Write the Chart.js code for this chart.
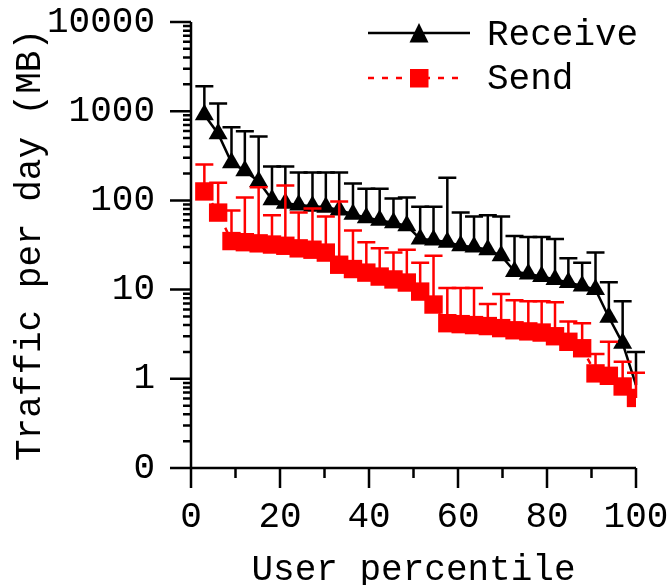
<!DOCTYPE html>
<html>
<head>
<meta charset="utf-8">
<script src="https://cdn.jsdelivr.net/npm/chart.js@4.4.0/dist/chart.umd.min.js"></script>
<style>
  html, body { margin: 0; padding: 0; background: #fff; }
</style>
</head>
<body>
<canvas id="trafficChart" width="670" height="585"></canvas>
<script>
const percentile = [3.0, 6.1, 9.1, 12.1, 15.2, 18.2, 21.2, 24.2, 27.3, 30.3, 33.3,
  36.4, 39.4, 42.4, 45.5, 48.5, 51.5, 54.5, 57.6, 60.6, 63.6, 66.7,
  69.7, 72.7, 75.8, 78.8, 81.8, 84.8, 87.9, 90.9, 93.9, 97.0, 100];

const receive = [910, 560, 265, 215, 163, 102, 93, 89, 86, 84, 78,
  70, 64, 60, 56, 52, 37, 36, 34, 31, 30, 28,
  24, 16, 15, 14, 13, 12, 11, 10, 4.9, 2.5, 0.85];
const receiveUpper = [1900, 1220, 660, 595, 520, 240, 240, 205, 205, 205, 205,
  155, 135, 135, 105, 108, 85, 85, 180, 73, 66, 68,
  66, 40, 39, 39, 37, 22.5, 20, 26, 12.1, 7.4, 2.0];

const send = [126, 73, 35, 34, 33, 32, 31, 29, 28, 26, 19,
  17, 15.5, 14, 13, 12, 9.5, 6.8, 4.2, 4.1, 4.0, 3.9,
  3.7, 3.5, 3.4, 3.3, 3.0, 2.6, 2.2, 1.15, 1.08, 0.82, 0.61];
const sendUpper = [252, 158, 77, 108, 140, 68, 147, 73, 81, 66, 97,
  46, 34, 29, 26, 28, 20, 24, 10.4, 10.4, 10.4, 6.9,
  8.9, 7.6, 7.4, 7.4, 7.2, 4.4, 4.2, 1.9, 2.6, 1.55, 1.17];

const yTicks = [0.1, 1, 10, 100, 1000, 10000];
const yTickLabels = ["0", "1", "10", "100", "1000", "10000"];
const xTicks = [0, 20, 40, 60, 80, 100];

const FONT = "'Liberation Mono', 'Courier New', monospace";
Chart.defaults.font.family = FONT;
Chart.defaults.font.size = 36;
Chart.defaults.color = "#000";

// vertical error bars (upper side only) with a cap
const errorBars = {
  id: "errorBars",
  afterDatasetDraw(chart, args) {
    const ds = chart.data.datasets[args.index];
    if (!ds.upper) return;
    const yScale = chart.scales.y;
    const ctx = chart.ctx;
    ctx.save();
    ctx.strokeStyle = ds.borderColor;
    ctx.lineWidth = 2.5;
    ctx.setLineDash([]);
    args.meta.data.forEach((pt, i) => {
      const top = yScale.getPixelForValue(ds.upper[i]);
      ctx.beginPath();
      ctx.moveTo(pt.x, pt.y);
      ctx.lineTo(pt.x, top);
      ctx.moveTo(pt.x - 9, top);
      ctx.lineTo(pt.x + 9, top);
      ctx.stroke();
    });
    ctx.restore();
  }
};

// axis lines and tick marks, drawn by hand to get long/short ticks
const axes = {
  id: "axes",
  afterDraw(chart) {
    const { ctx, chartArea } = chart;
    const xs = chart.scales.x, ys = chart.scales.y;
    const x0 = chartArea.left, y0 = chartArea.bottom;
    ctx.save();
    ctx.strokeStyle = "#000";
    ctx.lineWidth = 2.5;
    ctx.beginPath();
    ctx.moveTo(x0, ys.getPixelForValue(10000));
    ctx.lineTo(x0, y0 + 20);
    ctx.moveTo(x0 - 21, y0);
    ctx.lineTo(chartArea.right, y0);
    yTicks.forEach(v => {
      const y = ys.getPixelForValue(v);
      ctx.moveTo(x0 - 21, y);
      ctx.lineTo(x0, y);
      if (v < 10000) {
        for (let k = 2; k <= 9; k++) {
          const ym = ys.getPixelForValue(v * k);
          ctx.moveTo(x0 - 8, ym);
          ctx.lineTo(x0, ym);
        }
      }
    });
    for (let v = 10; v <= 100; v += 10) {
      const x = xs.getPixelForValue(v);
      ctx.moveTo(x, y0);
      ctx.lineTo(x, y0 + (v % 20 === 0 ? 20 : 10));
    }
    ctx.stroke();

    // legend
    ctx.lineWidth = 2.5;
    ctx.beginPath();
    ctx.moveTo(368, 33);
    ctx.lineTo(470, 33);
    ctx.stroke();
    ctx.fillStyle = "#000";
    ctx.beginPath();
    ctx.moveTo(419, 23);
    ctx.lineTo(428.5, 42.5);
    ctx.lineTo(409.5, 42.5);
    ctx.closePath();
    ctx.fill();

    ctx.strokeStyle = "#ff0000";
    ctx.setLineDash([6, 8]);
    ctx.beginPath();
    ctx.moveTo(368, 78);
    ctx.lineTo(462, 78);
    ctx.stroke();
    ctx.setLineDash([]);
    ctx.fillStyle = "#ff0000";
    ctx.fillRect(410, 69, 18.5, 18.5);

    ctx.fillStyle = "#000";
    ctx.font = "36px " + FONT;
    ctx.textAlign = "left";
    ctx.textBaseline = "middle";
    ctx.fillText("Receive", 487, 35);
    ctx.fillText("Send", 487, 79);
    ctx.restore();
  }
};

const ctx = document.getElementById("trafficChart").getContext("2d");
const chart = new Chart(ctx, {
  type: "line",
  data: {
    datasets: [
      {
        label: "Receive",
        data: percentile.map((x, i) => ({ x: x, y: receive[i] })),
        upper: receiveUpper,
        borderColor: "#000",
        backgroundColor: "#000",
        borderWidth: 2.5,
        pointStyle: "triangle",
        pointRadius: percentile.map((x, i) => (i === percentile.length - 1 ? 0 : 11)),
        pointBorderWidth: 0,
        fill: false,
        order: 1
      },
      {
        label: "Send",
        data: percentile.map((x, i) => ({ x: x, y: send[i] })),
        upper: sendUpper,
        borderColor: "#ff0000",
        backgroundColor: "#ff0000",
        borderWidth: 2.5,
        borderDash: [6, 8],
        pointStyle: "rect",
        pointRadius: 13,
        pointBorderWidth: 0,
        fill: false,
        order: 0
      }
    ]
  },
  options: {
    responsive: false,
    animation: false,
    devicePixelRatio: 1,
    layout: { padding: { top: 22, right: 34, left: 0, bottom: 0 } },
    plugins: {
      legend: { display: false },
      tooltip: { enabled: false }
    },
    scales: {
      x: {
        type: "linear",
        min: 0,
        max: 100,
        afterBuildTicks: scale => { scale.ticks = xTicks.map(v => ({ value: v })); },
        afterFit: scale => { scale.height = 117; },
        // invisible tick marks: tickLength just pushes the labels away
        grid: { display: true, drawOnChartArea: false, drawTicks: true, tickLength: 28, color: "rgba(0,0,0,0)" },
        border: { display: false },
        ticks: { padding: 0, maxRotation: 0 },
        title: {
          display: true,
          text: "User percentile",
          font: { size: 36, lineHeight: 0.6 },
          padding: { top: 0, bottom: 4 }
        }
      },
      y: {
        type: "logarithmic",
        min: 0.1,
        max: 10000,
        afterBuildTicks: scale => { scale.ticks = yTicks.map(v => ({ value: v })); },
        afterFit: scale => { scale.width = 191; },
        grid: { display: true, drawOnChartArea: false, drawTicks: true, tickLength: 36, color: "rgba(0,0,0,0)" },
        border: { display: false },
        ticks: {
          padding: 0,
          callback: (v) => yTickLabels[yTicks.indexOf(v)]
        },
        title: {
          display: true,
          text: "Traffic per day (MB)",
          font: { size: 36, lineHeight: 1 },
          padding: { top: 12, bottom: 0 }
        }
      }
    }
  },
  plugins: [errorBars, axes]
});
</script>
</body>
</html>
